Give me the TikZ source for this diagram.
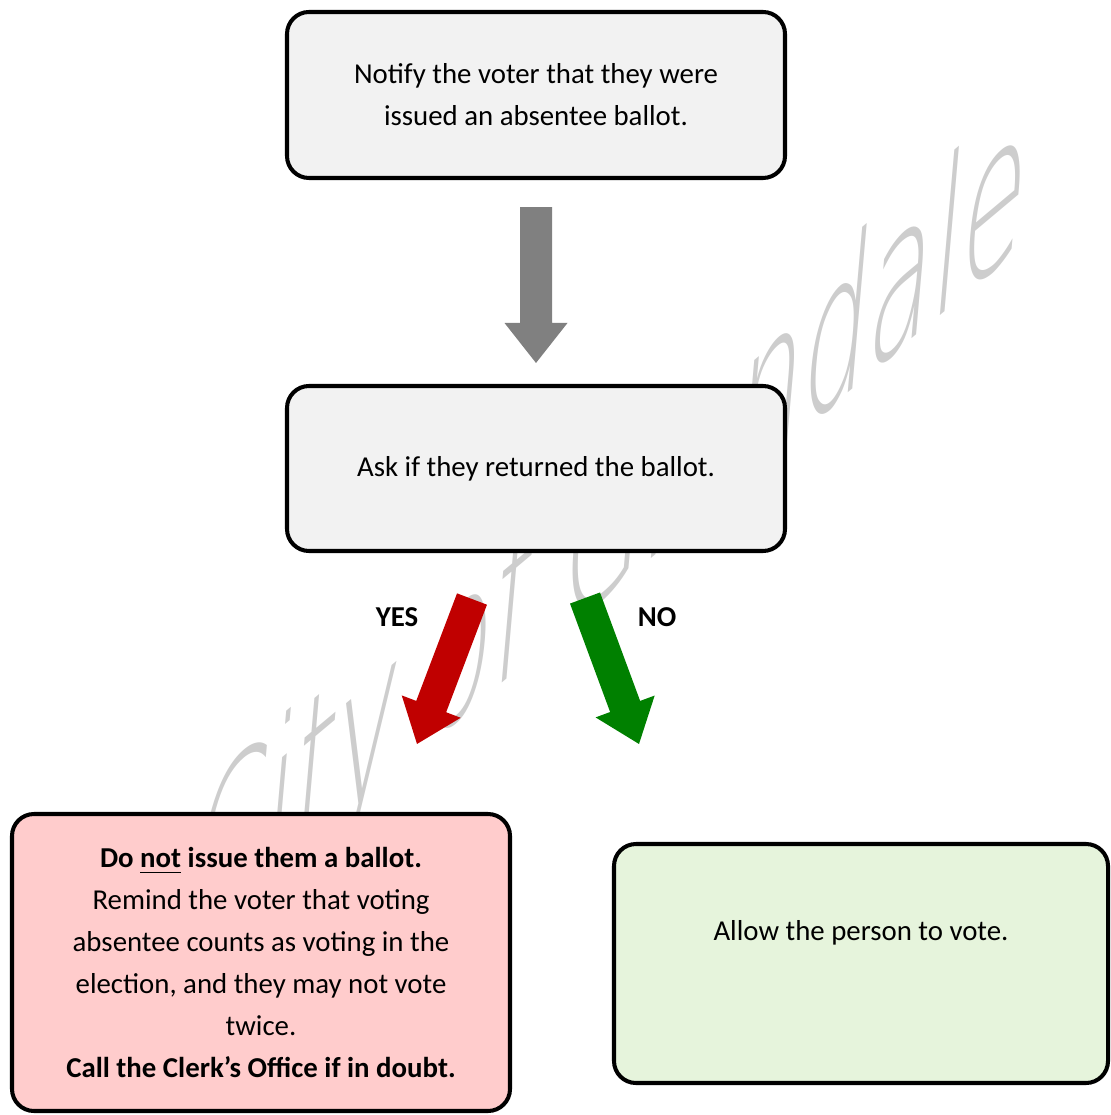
\documentclass[tikz,border=0pt]{standalone}
\usepackage{fontspec}
\setmainfont{Carlito}
\newfontfamily\markfont{DejaVu Sans}[UprightFont=* ExtraLight]
\usetikzlibrary{positioning,calc}
\definecolor{boxgray}{RGB}{242,242,242}
\definecolor{boxred}{RGB}{255,204,204}
\definecolor{boxgreen}{RGB}{230,244,220}
\definecolor{argray}{RGB}{128,128,128}
\definecolor{arred}{RGB}{192,0,0}
\definecolor{argreen}{RGB}{0,128,0}
\definecolor{markgray}{RGB}{205,205,205}

\newcommand{\blockarrow}[3]{%
  \coordinate (hb) at ($(#3)!0.4cm!(#2)$);
  \fill[#1] ($(#2)!0.16cm!90:(#3)$) -- ($(hb)!0.16cm!90:(#3)$) -- ($(hb)!0.315cm!90:(#3)$) -- (#3)
     -- ($(hb)!0.315cm!-90:(#3)$) -- ($(hb)!0.16cm!-90:(#3)$) -- ($(#2)!0.16cm!-90:(#3)$) -- cycle;}

\begin{document}
\begin{tikzpicture}[
    stepbox/.style={draw=black, line width=1.15pt, rounded corners=0.22cm, align=center,
                    inner sep=0pt, minimum width=4.98cm, font=\fontsize{8.2}{11.95}\selectfont},
    answer/.style={font=\fontsize{8.2}{11.95}\selectfont\bfseries},
    watermark/.style={text=markgray, font=\markfont\fontsize{44}{44}\selectfont}]
   \useasboundingbox (0,0) rectangle (11.1,-11.15);
   \begin{scope}[shift={(6.1,-5.35)}, rotate=40, xslant=1.0, xscale=0.88]
     \node[watermark, transform shape] (seal) at (0,0) {City of Glendale};
   \end{scope}

   \node[stepbox, fill=boxgray, minimum height=1.66cm] (notify) at (5.36,-0.95)
        {Notify the voter that they were\\issued an absentee ballot.};
   \node[stepbox, fill=boxgray, minimum height=1.65cm] (ask) at (5.36,-4.685)
        {Ask if they returned the ballot.};
   \node[stepbox, fill=boxred, minimum height=2.97cm] (remind) at (2.61,-9.625)
        {\textbf{Do \underline{not} issue them a ballot.}\\Remind the voter that voting\\
         absentee counts as voting in the\\election, and they may not vote\\twice.\\
         \textbf{Call the Clerk’s Office if in doubt.}};
   \node[stepbox, fill=boxgreen, minimum width=4.94cm, minimum height=2.39cm] (allow) at (8.61,-9.635) {};
   \node[font=\fontsize{8.2}{11.95}\selectfont] (allowtxt) at ($(allow.north)+(0,-0.91)$)
        {Allow the person to vote.};

   \node[answer] (yes) at (3.97,-6.17) {YES};
   \node[answer] (no) at (6.57,-6.17) {NO};

   \coordinate (g1) at ($(notify.south)+(0,-0.27)$);
   \coordinate (g2) at ($(ask.north)+(0,0.21)$);
   \coordinate (r1) at ($(ask.south)+(-0.64,-0.46)$);
   \coordinate (r2) at ($(remind.north)+(1.56,0.68)$);
   \coordinate (n1) at ($(ask.south)+(0.49,-0.45)$);
   \coordinate (n2) at ($(allow.north)+(-2.22,0.98)$);
   \blockarrow{argray}{g1}{g2}
   \blockarrow{arred}{r1}{r2}
   \blockarrow{argreen}{n1}{n2}
\end{tikzpicture}
\end{document}
